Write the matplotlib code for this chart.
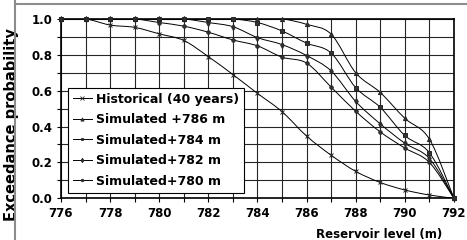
import numpy as np
import matplotlib
matplotlib.use('Agg')
import matplotlib.pyplot as plt
from matplotlib.path import Path
from matplotlib.patches import PathPatch
from matplotlib.lines import Line2D

levels = [776, 777, 778, 779, 780, 781, 782, 783, 784, 785, 786, 787, 788, 789, 790, 791, 792]
historical = [1.0, 1.0, 0.966, 0.953, 0.917, 0.88, 0.79, 0.69, 0.585, 0.483, 0.347, 0.24, 0.15, 0.088, 0.046, 0.018, 0.0]
sim786 = [1.0, 1.0, 1.0, 1.0, 1.0, 1.0, 1.0, 1.0, 1.0, 1.0, 0.97, 0.915, 0.70, 0.59, 0.446, 0.33, 0.0]
sim784 = [1.0, 1.0, 1.0, 1.0, 1.0, 1.0, 1.0, 1.0, 0.98, 0.933, 0.865, 0.81, 0.617, 0.507, 0.35, 0.254, 0.0]
sim782 = [1.0, 1.0, 1.0, 1.0, 1.0, 1.0, 0.98, 0.957, 0.896, 0.857, 0.796, 0.71, 0.54, 0.415, 0.307, 0.222, 0.0]
sim780 = [1.0, 1.0, 1.0, 1.0, 0.98, 0.96, 0.926, 0.883, 0.85, 0.787, 0.754, 0.62, 0.485, 0.37, 0.28, 0.2, 0.0]

series_labels = ['Historical (40 years)', 'Simulated +786 m', 'Simulated+784 m',
                 'Simulated+782 m', 'Simulated+780 m']
series = [historical, sim786, sim784, sim782, sim780]
markers = ['x', '^', 's', 'd', 'o']
msizes = [3.5, 3, 2.5, 3, 2.5]

plt.rcParams['font.family'] = 'DejaVu Sans'
plt.rcParams['font.weight'] = 'bold'


def smooth_patch(x, y):
    # excel-like smoothed line (catmull-rom as bezier)
    pts = np.column_stack([x, y]).astype(float)
    n = len(pts)
    verts = [pts[0]]
    codes = [Path.MOVETO]
    for i in range(n - 1):
        p0 = pts[max(i - 1, 0)]
        p1 = pts[i]
        p2 = pts[i + 1]
        p3 = pts[min(i + 2, n - 1)]
        verts += [p1 + (p2 - p0) / 6, p2 - (p3 - p1) / 6, p2]
        codes += [Path.CURVE4] * 3
    return PathPatch(Path(verts, codes), fill=False, ec='k', lw=0.7)


fig = plt.figure(figsize=(4.67, 2.4), dpi=100)
ax = fig.add_axes([0.1306, 0.174, 0.8414, 0.747])

handles = []
for vals, lab, m, ms in zip(series, series_labels, markers, msizes):
    ax.add_patch(smooth_patch(levels, vals))
    ax.plot(levels, vals, ls='none', marker=m, ms=ms, color='0.2', mec='0.15',
            mew=0.7, clip_on=False, zorder=3)
    handles.append(Line2D([], [], color='k', lw=0.7, marker=m, ms=ms - 0.7,
                          mec='0.15', mfc='0.2', mew=0.6, label=lab))

ax.set_xlim(776, 792)
ax.set_ylim(0, 1.0)
ax.set_xticks(np.arange(776, 793, 1), minor=True)
ax.set_xticks(np.arange(776, 793, 2))
ax.set_yticks(np.arange(0, 1.01, 0.1), minor=True)
ax.set_yticks(np.arange(0, 1.01, 0.2))
ax.set_yticklabels(['%.1f' % v for v in np.arange(0, 1.01, 0.2)])
ax.grid(True, which='both', color='0.15', lw=0.8)
ax.set_axisbelow(True)
ax.tick_params(which='both', direction='out', length=3, width=0.8, color='k')
ax.tick_params(axis='both', labelsize=8.5, pad=3)
for s in ax.spines.values():
    s.set_linewidth(1.2)
    s.set_color('k')

ax.set_xlabel('Reservoir level (m)', fontsize=8.5, fontweight='bold')
ax.xaxis.set_label_coords(0.81, -0.165)
ax.set_ylabel('Exceedance probability', fontsize=10.5, fontweight='bold')
ax.yaxis.set_label_coords(-0.107, 0.41)

leg = ax.legend(handles=handles, loc='lower left', bbox_to_anchor=(0.018, 0.03),
                fontsize=9, frameon=True, fancybox=False, edgecolor='k',
                framealpha=1, handlelength=1.5, handletextpad=0.35,
                labelspacing=0.6, borderpad=0.4, borderaxespad=0)
leg.get_frame().set_linewidth(0.8)

# border lines of the cropped source figure
fig.add_artist(Line2D([15 / 467, 15 / 467], [0, 1], color='0.55', lw=1.5))
fig.add_artist(Line2D([15 / 467, 1], [1 - 4 / 240, 1 - 4 / 240], color='0.55', lw=1.5))

fig.savefig('out.png', dpi=100)
